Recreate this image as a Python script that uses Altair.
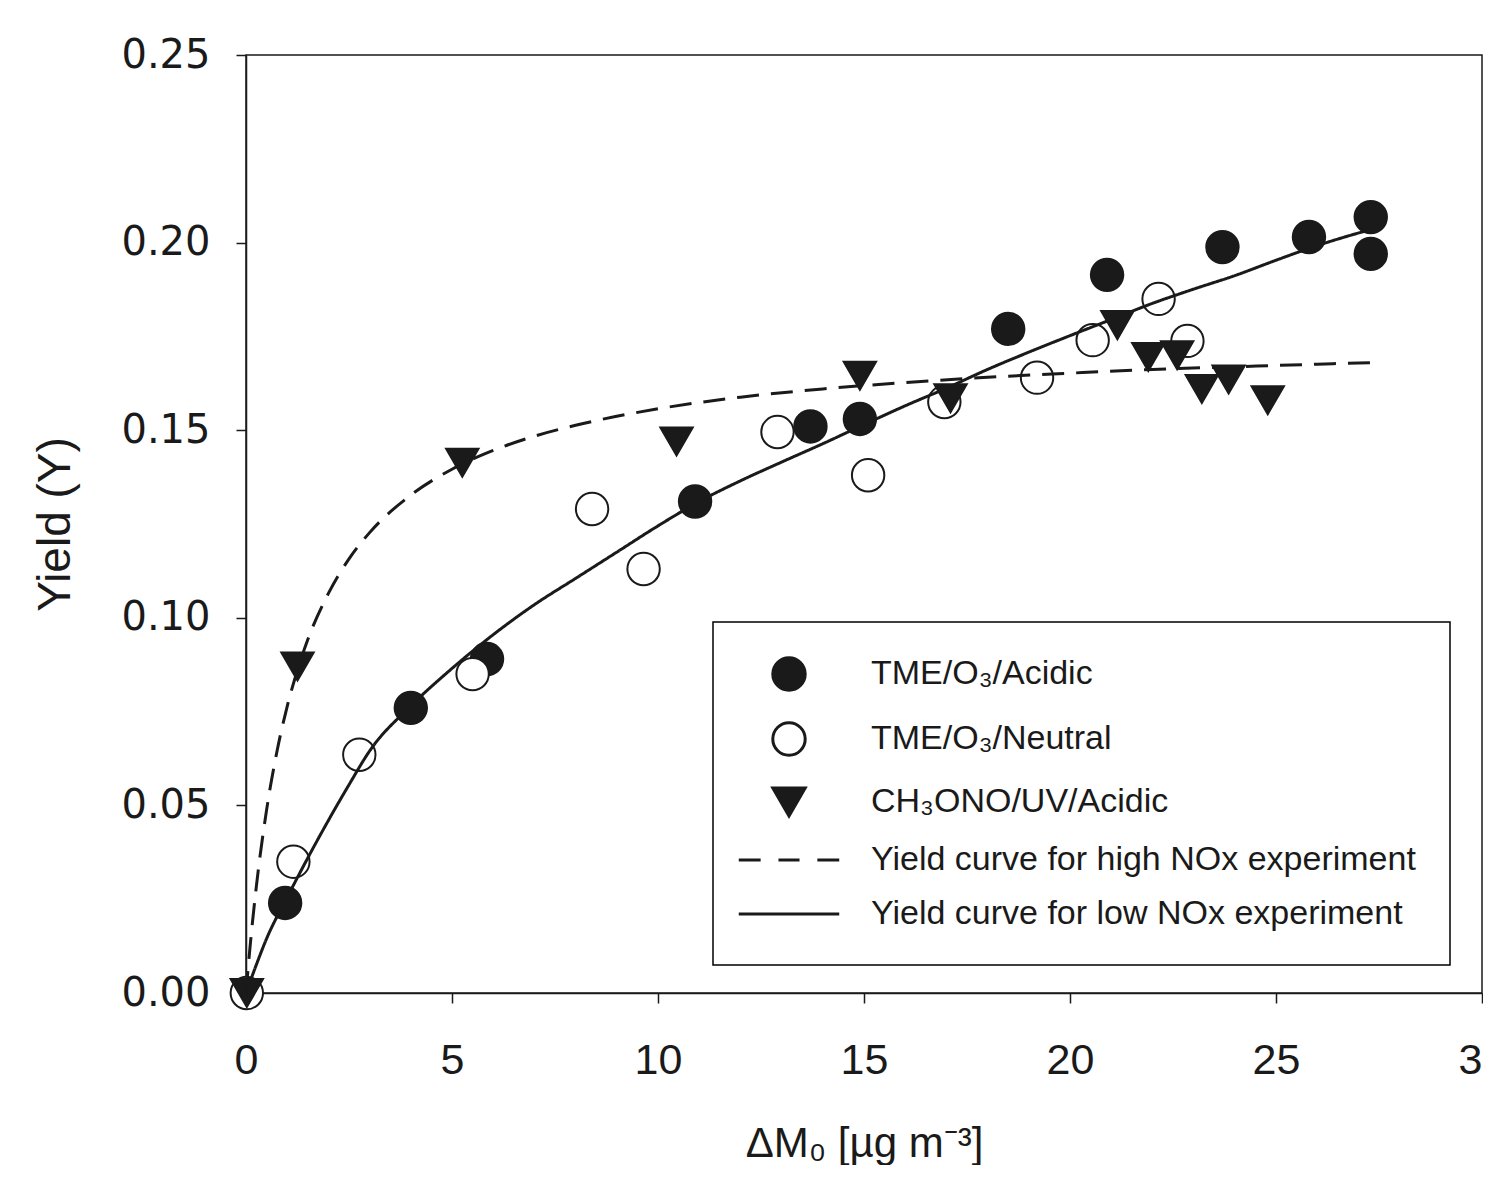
import altair as alt
import pandas as pd

# ---- data ----
S_A = "TME/O₃/Acidic"
S_N = "TME/O₃/Neutral"
S_T = "CH₃ONO/UV/Acidic"
S_H = "Yield curve for high NOx experiment"
S_L = "Yield curve for low NOx experiment"

acid_x = [0.95, 4.0, 5.85, 10.9, 13.7, 14.9, 18.5, 20.9, 23.7, 25.8, 27.3, 27.3]
acid_y = [0.024, 0.076, 0.089, 0.131, 0.151, 0.153, 0.177, 0.1914, 0.1988, 0.2015, 0.2068, 0.197]

neut_x = [0.02, 1.15, 2.75, 5.5, 8.4, 9.65, 12.9, 15.1, 16.95, 19.2, 20.55, 22.15, 22.85]
neut_y = [0.0, 0.035, 0.0635, 0.085, 0.129, 0.113, 0.1495, 0.138, 0.1575, 0.164, 0.174, 0.185, 0.1738]

tri_x = [0.02, 1.25, 5.25, 10.45, 14.9, 17.1, 21.15, 21.9, 22.6, 23.2, 23.85, 24.8]
tri_y = [0.0, 0.087, 0.1413, 0.147, 0.1645, 0.1585, 0.178, 0.1695, 0.170, 0.161, 0.1635, 0.158]

high_x = [0, 0.1, 0.25, 0.5, 0.75, 1.0, 1.25, 1.5, 2, 2.5, 3, 4, 5, 6, 7, 8, 10, 12, 14, 16, 18, 20, 22, 24, 26, 27.3]
high_y = [0, 0.0125, 0.0283, 0.0488, 0.0643, 0.0764, 0.0861, 0.0942, 0.1065, 0.1157, 0.1227, 0.1327,
          0.1396, 0.1446, 0.1484, 0.1513, 0.1557, 0.1588, 0.1610, 0.1627, 0.1641, 0.1652, 0.1662,
          0.1669, 0.1676, 0.1680]

low_x = [0, 0.25, 0.5, 1.0, 1.5, 2.0, 2.5, 3.0, 4.0, 5.0, 6.0, 7.0, 8.0, 9.0, 10.0, 11.0, 12.0, 13.0,
         14.0, 15.0, 16.0, 17.0, 18.0, 19.0, 20.0, 21.0, 22.0, 23.0, 24.0, 25.0, 26.0, 27.3]
low_y = [0, 0.0075, 0.0145, 0.0255, 0.036, 0.046, 0.0555, 0.0645, 0.0765, 0.0865, 0.0955, 0.1035,
         0.1105, 0.1175, 0.1245, 0.131, 0.1365, 0.1415, 0.1464, 0.1515, 0.1565, 0.1612, 0.1662, 0.1708,
         0.1752, 0.1795, 0.1838, 0.1876, 0.1912, 0.1953, 0.1992, 0.2035]

x_ticks = [0, 5, 10, 15, 20, 25, 30]
y_ticks = [0.0, 0.05, 0.10, 0.15, 0.20, 0.25]

# ---- tables ----
pts = pd.concat([
    pd.DataFrame({"x": acid_x, "y": acid_y, "series": S_A}),
    pd.DataFrame({"x": neut_x, "y": neut_y, "series": S_N}),
    pd.DataFrame({"x": tri_x, "y": tri_y, "series": S_T}),
], ignore_index=True)
pts["order"] = range(len(pts))

curves = pd.concat([
    pd.DataFrame({"x": high_x, "y": high_y, "series": S_H}),
    pd.DataFrame({"x": low_x, "y": low_y, "series": S_L}),
], ignore_index=True)

domain = [S_A, S_N, S_T, S_H, S_L]
DASH_PATH = "M-3.1,0H-1.75M-0.65,0H0.65M1.75,0H3.1"
LINE_PATH = "M-3.1,0H3.1"

FONT = "Liberation Sans"
INK = "#1a1a1a"

xenc = alt.X("x:Q", scale=alt.Scale(domain=[0, 30], nice=False),
             axis=alt.Axis(values=x_ticks, format="d", title="ΔM₀ [µg m⁻³]",
                           titleX=618, titleY=150, titleBaseline="middle", titleFontSize=42,
                           labelPadding=36, labelFlush=False))
yenc = alt.Y("y:Q", scale=alt.Scale(domain=[0, 0.25], nice=False),
             axis=alt.Axis(values=y_ticks, format=".2f", title="Yield (Y)",
                           titleX=-191, titleY=469, titleAngle=-90,
                           titleAlign="center", titleBaseline="middle",
                           labelFont="DejaVu Sans", labelFontSize=40,
                           labelPadding=26))

legend = alt.Legend(
    title=None, orient="none", legendX=467, legendY=567,
    padding=34, strokeColor="black", fillColor="white",
    symbolSize=1050, symbolStrokeColor=INK, symbolStrokeWidth=3,
    labelFont=FONT, labelFontSize=34, labelColor=INK, labelLimit=900,
    symbolOffset=24, labelOffset=64, rowPadding=19,
)

points = alt.Chart(pts).mark_point(filled=False, strokeWidth=2,
                                   size=1050, opacity=1, fillOpacity=1).encode(
    x=xenc, y=yenc,
    shape=alt.Shape("series:N", scale=alt.Scale(domain=domain,
                    range=["circle", "circle", "triangle-down", DASH_PATH, LINE_PATH]), legend=legend),
    fill=alt.Fill("series:N", scale=alt.Scale(domain=domain,
                  range=[INK, "white", INK, "transparent", "transparent"]), legend=legend),
    stroke=alt.Stroke("series:N", scale=alt.Scale(domain=domain,
                      range=[INK, INK, INK, INK, INK]), legend=legend),
    order="order:Q",
)

lines = alt.Chart(curves).mark_line(color=INK, strokeWidth=3, interpolate="monotone").encode(
    x=xenc, y=yenc,
    detail="series:N",
    strokeDash=alt.StrokeDash("series:N", scale=alt.Scale(domain=[S_H, S_L], range=[[22, 12], [1, 0]]),
                              legend=None),
)

chart = alt.layer(points, lines).properties(
    width=1236, height=938,
    autosize=alt.AutoSizeParams(type="none"),
    padding={"left": 238, "top": 47, "right": 1, "bottom": 172},
    background="white",
).configure_view(
    stroke=INK, strokeWidth=1.5,
).configure_axis(
    grid=False, domainColor=INK, domainWidth=1.5, tickColor=INK, tickWidth=1.5,
    tickSize=10, labelFont=FONT, labelFontSize=43, labelColor=INK,
    titleFont=FONT, titleFontSize=46, titleFontWeight="normal", titleColor=INK,
).configure_legend(
    strokeWidth=1.5,
)

chart.save("out.html", embed_options={"renderer": "svg", "actions": False})
